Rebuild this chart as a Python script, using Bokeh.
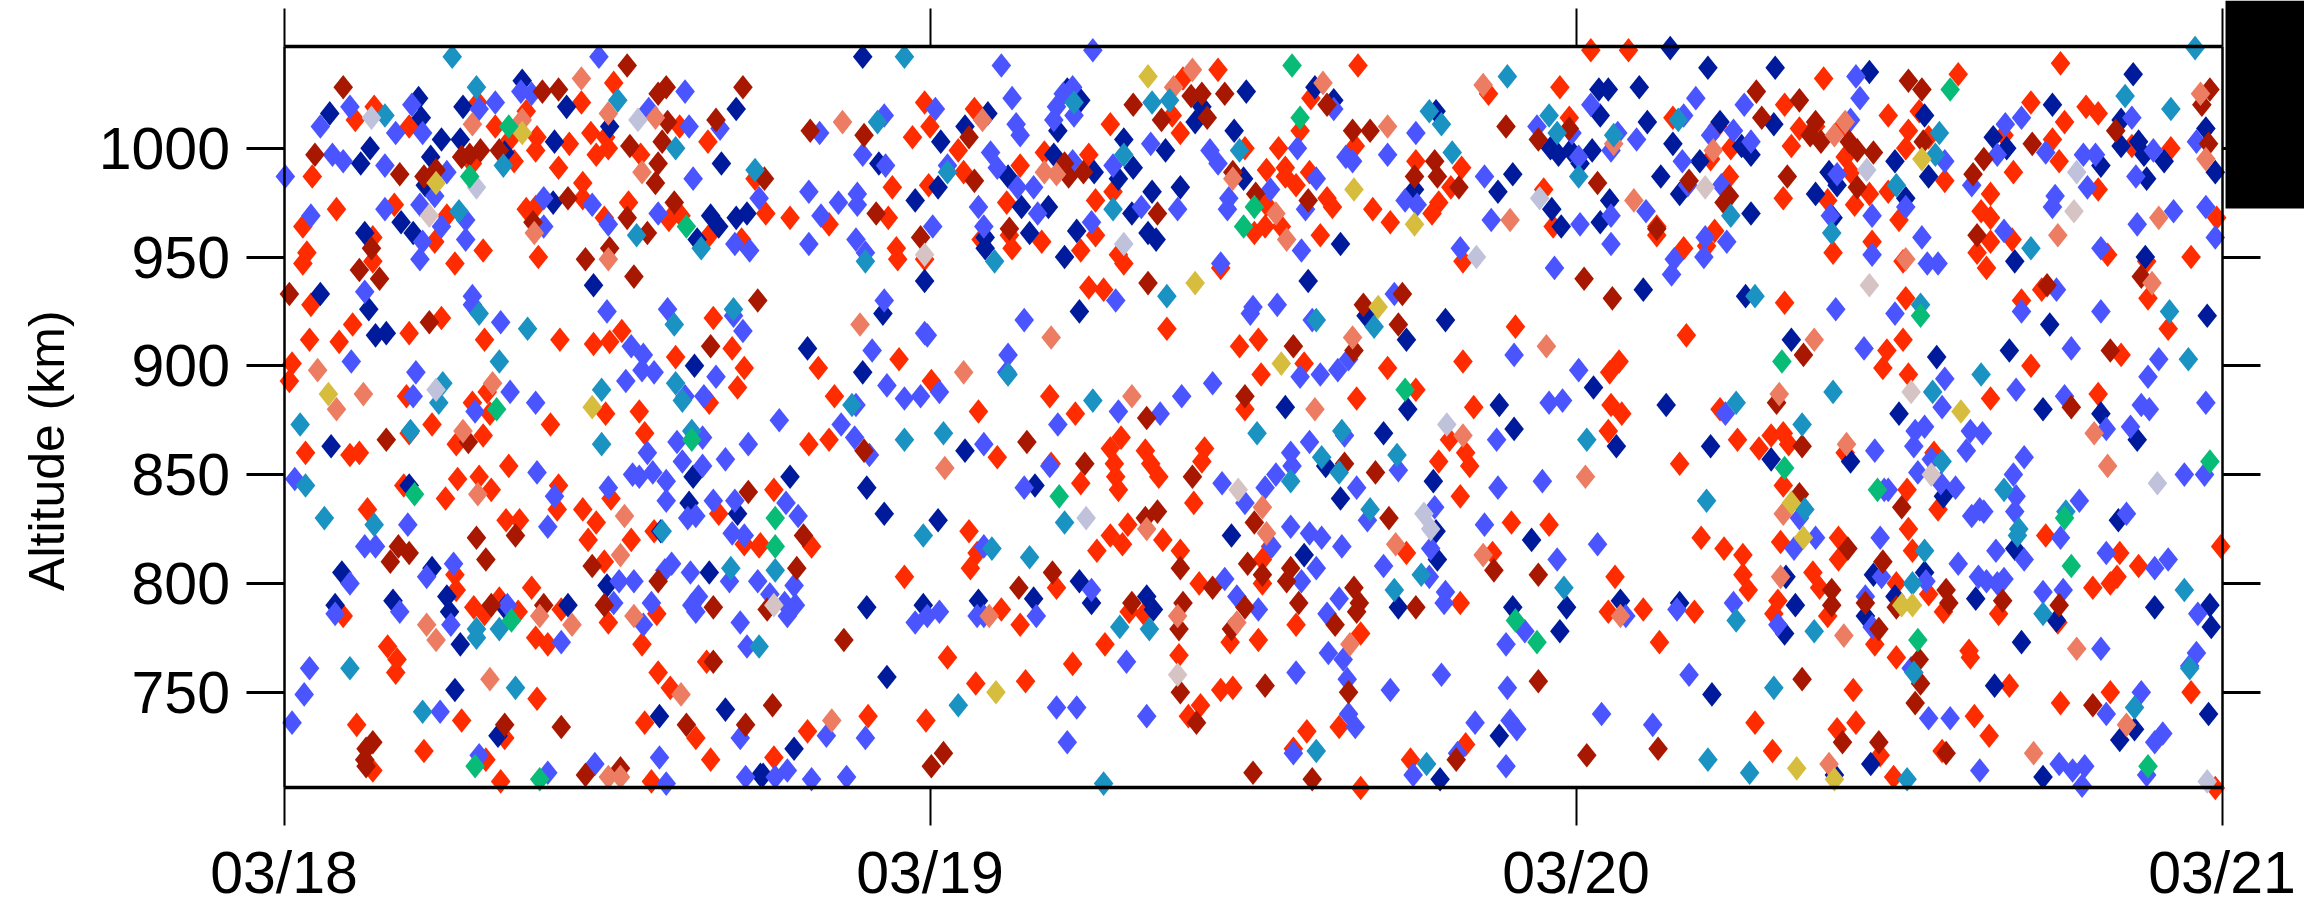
from bokeh.plotting import figure
from bokeh.models import LinearAxis, FixedTicker, Range1d, BoxAnnotation, Label
from bokeh.embed import file_html
from bokeh.resources import INLINE

# (hours since 03/18 00:00, altitude km)
teal = [(6.25,1042),(7.15,1028),(3.75,1015),(12.4,1022),(8.15,992),(6.5,971),(13.1,960),(14.55,1000),(15.5,954),(17.5,990),(16.7,926),(14.5,919),(7.25,924),(9.05,917),(8.0,902),(14.55,892),(14.8,884),(11.8,889),(5.75,883),(5.9,892),
(0.6,873),(4.7,870),(11.8,864),(15.15,870),(0.8,845),(1.5,830),(3.35,827),(14.05,824),(16.6,807),(7.15,779),(7.15,775),(8.0,779),(17.65,771),(2.45,761),(8.6,752),(5.15,741),
(23.05,1042),(22.05,1012),(24.65,989),(29.35,1021),(31.2,997),(32.25,1021),(32.9,1022),(35.5,999),(42.55,1017),(43,1011),(43.4,998),(45.45,1033),(30.8,972),(21.6,948),(26.4,948),(32.8,932),(40.5,918),(38.35,921),(26.9,896),(21.1,882),(30.05,884),
(23.05,866),(24.5,869),(36.15,869),(39.3,870),(41.35,859),(37.4,847),(38.55,858),(39.2,851),(40.35,834),(29,828),(23.75,822),(26.3,816),(27.7,812),(18.25,806),(41.25,797),(42.25,804),(31.05,780),(32.15,779),(25.05,744),(38.35,723),(42.45,717),(30.45,708),
(47,1015),(47.3,1007),(51.8,1013),(49.4,1006),(48.1,987),(61.5,1007),(61.35,997),(59.9,983),(53.75,969),(57.5,961),(64.9,954),(68.4,1024),(70.1,1018),(71,1046),(54.65,932),(60.8,928),(70.05,925),(63.05,896),(61.25,888),(57.55,888),(70.75,903),(53.95,883),
(48.4,866),(56.4,873),(52.85,838),(63.9,843),(64.45,825),(64.4,822),(60.95,815),(56.5,834),(61.6,856),(66.2,833),(60.5,800),(47.55,798),(70.6,797),(53.95,783),(56.85,778),(65.35,786),(55.35,752),(68.75,743),(60.55,759),(52.9,719),(54.45,713),(60.3,710),(70.8,761)]

blue = [(11.7,1042),(2.45,1019),(1.35,1010),(4.75,1020),(4.15,1007),(5.15,1007),(7.85,1021),(8.8,1026),(9.2,1025),(7.25,1018),(13.55,1018),(14.9,1026),(15.05,1010),(16.2,1009),(0.05,987),(1.8,997),(2.2,994),(3.75,992),(6.05,989),(5.6,978),(5.05,974),(3.75,972),(1.0,969),(9.65,977),(11.45,974),(15.2,986),(13.9,970),(12.05,965),(9.65,964),(6.75,967),(5.85,964),(6.75,958),(5.15,957),(5.05,949),(16.75,956),(17.3,953),(17.65,977),(7.0,932),(7.0,928),(3.0,934),(12.0,925),(14.25,926),(8.05,920),(12.9,909),(13.35,905),(13.3,898),(13.75,897),(12.7,893),(17.05,916),(16.7,923),(16.05,895),(14.9,886),(15.6,886),(2.5,902),(4.9,897),(4.8,886),(8.4,888),(9.35,883),(7.1,879),
(0.4,848),(9.4,851),(10.05,840),(12.05,844),(12.95,850),(13.2,849),(13.7,851),(14.2,847),(14.2,838),(13.5,860),(14.6,865),(14.8,856),(15.55,867),(15.55,854),(17.25,864),(16.4,857),(15.95,838),(16.75,838),(15.0,830),(15.3,831),(9.8,826),(4.6,827),(3.0,817),(3.4,817),(16.65,823),(17.1,822),(5.3,803),(6.3,809),(2.45,800),(12.45,801),(13.0,801),(14.4,809),(14.15,806),(15.1,805),(16.55,801),(17.6,801),(12.25,791),(13.65,791),(15.4,794),(15.15,790),(15.3,787),(1.9,786),(4.3,787),(6.2,781),(8.3,790),(13.35,781),(16.95,782),(10.3,773),(17.2,771),(0.95,761),(0.75,749),(0.3,736),(5.8,741),(16.95,729),(7.25,721),(11.55,717),(13.95,720),(9.8,713),(14.2,708),(17.15,711),
(26.65,1038),(30.05,1045),(27.05,1023),(29.3,1028),(28.95,1025),(28.7,1019),(28.6,1013),(29.35,1015),(27.2,1011),(27.35,1006),(24.2,1018),(22.3,1015),(19.9,1007),(26.25,998),(26.5,991),(24.65,992),(22.35,992),(21.5,997),(29.3,994),(30.8,992),(32.2,1002),(19.5,980),(21.3,979),(21.3,974),(20.6,975),(27.25,982),(27.85,982),(25.8,973),(28,970),(30,966),(31.85,973),(33.2,972),(19.95,969),(24.1,964),(26,964),(21.25,958),(19.5,956),(21.6,952),(34.4,999),(34.7,993),(36.65,981),(35.1,977),(35.05,972),(37.65,1000),(38.35,986),(37.95,972),(39,1018),(39.45,996),(39.7,994),(41,997),(42.05,1007),(41.65,976),(42.1,974),(44.6,987),(44.85,967),(43.7,954),(37.8,953),(34.8,947),(41.25,933),(22.3,930),(30.9,930),(36,927),(35.9,924),(36.9,928),(38.2,921),(27.5,921),(23.8,915),(23.9,914),(21.85,907),(26.9,905),(26.85,897),(22.4,891),(23.05,885),(23.65,886),(24.35,888),(34.5,892),(33.35,886),(37.75,895),(38.5,896),(39.15,898),(39.55,903),(45.7,905),(21.25,882),(31,879),(32.55,878),
(18.4,875),(20.7,873),(21.2,867),(21.75,859),(26,864),(28.75,873),(28.45,854),(27.5,844),(18.65,837),(19.1,831),(18.05,795),(18.95,799),(18.6,791),(19,790),(18.7,785),(23.45,782),(23.9,785),(24.35,787),(25.75,785),(26,785),(26,817),(27.95,785),(30,797),(45.05,866),(39.4,868),(38.1,865),(37.4,860),(37.45,854),(36.85,850),(36.45,844),(34.85,846),(35.7,837),(41.4,852),(39.85,844),(40.25,829),(42.75,835),(45.1,844),(44.6,827),(37.4,826),(38.1,823),(38.55,821),(39.3,817),(36.7,817),(38.35,807),(37.8,801),(40.85,808),(42.6,816),(42.55,803),(43.15,796),(43.1,791),(34.95,802),(35.4,794),(36.2,788),(39.2,793),(38.75,786),(45.4,772),(38.8,768),(39.35,765),(39.5,756),(37.6,759),(43,758),(41.1,751),(45.45,752),(39.55,740),(39.8,734),(44.25,736),(45.55,737),(45.8,733),(45.4,716),(31.3,764),(28.7,743),(29.45,743),(32.05,739),(29.1,727),(21.6,729),(20.15,730),(19.6,710),(20.9,711),(18.25,711),(18.7,714),(37.5,722),(41.95,712),(43.6,722),
(52.45,1023),(48.55,1020),(46.55,1010),(58.4,1033),(58.55,1023),(54.25,1020),(52,1015),(53,1006),(53.85,1008),(54.5,1003),(49.55,1007),(49.3,999),(50.25,1004),(51.95,994),(47.85,1007),(48.1,996),(64.55,1014),(63.95,1011),(65.45,998),(66.85,997),(67.3,997),(68.65,1014),(69.45,999),(68.8,987),(71.05,1003),(63.65,997),(61.7,994),(57.7,988),(58.2,1013),(53.4,983),(52.15,983),(50.6,971),(49.3,969),(48.15,965),(49.3,956),(57.45,969),(59,969),(60.25,973),(60.85,959),(59,951),(61.05,947),(61.45,947),(62.7,983),(63.9,962),(67,982),(65.8,978),(65.7,973),(70.2,971),(71.4,973),(68.85,965),(67.5,954),(71.75,959),(52.8,959),(53.6,957),(52.75,950),(51.65,949),(51.55,942),(47.2,945),(57.65,926),(59.85,924),(64.55,925),(65.85,935),(67.5,925),(58.7,908),(61.7,894),(66.4,908),(69.65,903),(69.25,895),(48.1,898),(47,883),(47.5,884),(64.35,889),(66.15,886),(69,882),(69.3,880),(71.4,883),(61.6,881),(53.55,878),
(46.75,847),(59.1,861),(60.55,863),(60.6,870),(60.95,872),(62.65,870),(63.1,869),(62.5,861),(61.2,857),(60.7,851),(64.65,858),(64.25,850),(61.55,846),(62.1,844),(59.45,843),(63,834),(62.7,831),(63.15,833),(64.35,840),(64.3,833),(66.7,838),(67.7,871),(68.6,872),(68.45,832),(70.6,850),(71.35,850),(56.3,830),(56.9,821),(56.1,816),(59.3,821),(66,821),(63.6,815),(64.65,811),(62.2,809),(67.7,814),(47.3,811),(48.8,818),(69.5,807),(70,811),(61,801),(62.95,803),(63.25,801),(63.65,800),(63.9,802),(59.35,803),(65.35,796),(66.1,797),(58.75,794),(53.85,791),(51.75,788),(71.1,786),(55.5,781),(59,780),(46.1,778),(49.85,785),(67.5,770),(71.05,768),(70.8,762),(60.45,761),(52.2,758),(69,750),(67.7,740),(48.95,740),(50.85,735),(61.1,738),(61.9,738),(69.8,731),(69.5,727),(63,714),(65.95,717),(66.45,714),(66.9,716),(66.8,707),(69.2,712),(59.6,843)]

navy = [(1.7,1016),(5.0,1023),(5.1,1014),(6.65,1019),(8.85,1031),(10.5,1019),(16.8,1018),(5.85,1004),(6.55,1004),(3.2,1000),(2.85,993),(5.45,996),(10.05,1003),(12.1,1010),(8.2,998),(16.25,993),(5.25,983),(4.35,966),(4.8,961),(3.0,961),(10.0,975),(15.85,969),(16.15,964),(16.8,968),(17.2,970),(15.35,958),(11.5,937),(1.35,933),(3.15,926),(3.4,914),(3.8,915),(15.25,900),
(1.75,863),(4.65,845),(15.2,849),(15.05,837),(16.85,832),(14.0,824),(2.15,805),(5.5,807),(15.8,805),(12.0,799),(1.9,790),(4.05,792),(6.05,794),(6.15,787),(8.2,789),(10.55,790),(6.55,772),(6.35,751),(7.95,730),(13.95,739),(16.4,742),(17.7,712),
(21.5,1042),(29.1,1027),(29.6,1022),(26.15,1016),(24.4,1003),(25.3,1010),(28.75,1008),(22.1,993),(24.3,982),(23.45,976),(27.4,973),(28.4,973),(26.9,987),(28.6,997),(30.1,989),(31.55,991),(31.0,986),(31.2,1004),(32.75,999),(32.25,980),(33.3,982),(31.5,970),(27.7,961),(29.45,962),(32.1,961),(32.4,958),(26.05,959),(26.05,954),(29,950),(23.8,939),(38.05,939),(33.85,1012),(35.3,1008),(35.75,1026),(38.3,1028),(39,1022),(42.8,1017),(35.65,986),(42,981),(45.1,980),(45.65,988),(39.25,956),(29.55,925),(22.25,924),(19.45,908),(21.5,897),(40.2,923),(43.15,921),(41.7,912),(37.2,881),(41.75,880),(45.15,882),(34.1,1019),
(18.8,849),(21.65,844),(22.3,832),(24.3,829),(25.3,861),(27.9,845),(40.85,869),(45.7,871),(38.7,854),(39.25,839),(42.7,847),(42.8,824),(42.85,811),(35.2,822),(37.9,813),(29.55,801),(30,791),(32.05,794),(25.8,792),(23.75,790),(21.65,789),(27.85,793),(41.4,789),(45.65,789),(22.4,757),(45.15,730),(18.95,724),(42.95,710),(17.8,712),(32.3,788),
(48.85,1027),(49.2,1027),(50.35,1028),(51.5,1046),(52.9,1037),(55.4,1037),(58.9,1035),(48.9,1015),(50.65,1012),(55.35,1011),(60.95,1015),(47.05,1000),(47.35,997),(47.8,999),(48.6,999),(48.15,993),(51.6,1002),(52.6,994),(53.35,1012),(54.15,1001),(54.5,997),(51.15,987),(51.85,979),(49.25,976),(47.1,972),(48.9,966),(47.45,964),(54.5,970),(56.9,979),(57.4,989),(57.7,983),(57.55,968),(59.85,994),(60.25,977),(61.1,987),(63.5,1005),(64,1000),(65.7,1020),(68.7,1034),(68.25,1013),(68.25,1001),(68.9,1003),(69.1,997),(69.2,986),(69.85,994),(67.5,992),(71.4,1009),(71.75,989),(64.3,948),(69.15,950),(50.5,935),(54.3,932),(56,912),(61.4,904),(48.65,890),(51.35,882),(64.1,907),(65.6,919),(71.45,923),(65.35,880),(67.5,878),(60,878),
(49.5,863),(53,863),(55.25,857),(58.2,856),(68.85,866),(61.65,840),(46.35,820),(47.65,789),(47.4,778),(49.65,792),(51.85,791),(68.15,829),(64.3,816),(59.05,804),(60.95,805),(56.15,790),(55.75,777),(58.75,785),(59.85,794),(62.85,793),(64.55,773),(69.5,789),(71.55,790),(71.6,780),(71.5,740),(63.55,753),(53.05,749),(68.2,728),(58.95,717),(57.6,712),(65.35,711),(68.75,733),(55.8,803),(65.85,783)]

red = [(3.35,1019),(2.65,1013),(4.65,1010),(7.2,1021),(9.0,1017),(11.05,1021),(12.25,1030),(7.85,1010),(8.4,1004),(9.4,1005),(9.35,999),(10.6,1002),(11.4,1007),(11.95,1005),(11.6,997),(12.05,1000),(13.25,997),(14.7,1010),(15.75,1003),(7.0,993),(8.55,994),(10.2,991),(1.05,987),(11.1,984),(11.1,977),(1.95,972),(4.1,974),(6.05,969),(12.8,975),(9.0,972),(9.35,973),(11.9,968),(14.3,967),(14.75,969),(0.7,964),(5.6,957),(15.8,960),(0.85,952),(0.7,947),(3.3,959),(3.3,948),(7.4,953),(6.35,947),(9.45,950),(17.0,958),(17.5,986),(1.0,928),(5.85,922),(2.55,919),(4.65,915),(0.95,912),(2.05,911),(7.45,912),(10.25,912),(11.5,910),(12.1,911),(12.55,916),(15.95,922),(16.65,908),(14.55,904),(17.1,899),(0.3,901),(0.2,893),(4.55,886),(7.0,883),(7.55,888),(15.8,883),(13.2,879),(11.95,878),(7.65,878),(16.85,890),
(0.8,860),(2.45,859),(2.8,860),(4.65,869),(5.5,873),(6.4,864),(7.4,868),(9.9,873),(8.35,854),(6.45,848),(7.25,849),(4.45,845),(7.7,843),(6.0,839),(3.1,834),(10.2,845),(12.15,839),(10.15,834),(11.1,834),(11.6,828),(8.25,829),(8.75,829),(11.3,820),(12.9,820),(13.75,824),(13.4,869),(16.15,832),(17.1,818),(17.65,817),(11.9,810),(6.35,804),(6.4,797),(9.2,798),(7.05,789),(7.45,786),(8.0,793),(8.7,787),(10.3,788),(13.85,786),(2.2,785),(12.05,782),(9.35,775),(9.8,772),(13.3,772),(3.85,771),(4.2,765),(4.15,759),(15.7,764),(13.9,759),(14.35,752),(9.4,747),(2.7,735),(6.6,737),(13.4,736),(15.3,729),(5.2,723),(15.85,719),(7.5,719),(8.05,709),(13.65,709),(3.3,714),(8.2,729),
(23.8,1021),(24,1010),(23.35,1005),(25.65,1018),(25.05,999),(25.25,989),(23.95,983),(22.6,982),(27.35,992),(28.25,998),(29.9,997),(26.85,975),(30.8,980),(30.15,976),(30.7,1011),(33.4,1032),(34.7,1036),(33,1015),(33.3,1007),(39.9,1038),(38.15,1023),(37.75,1008),(36.95,1000),(36.5,990),(37.2,991),(37.2,987),(37.6,983),(38.1,989),(38.75,977),(38.95,973),(39.8,1001),(35.7,1000),(36.5,974),(36.45,964),(36.05,961),(37.05,964),(38.5,960),(42.05,994),(43.75,991),(42.9,975),(42.65,970),(43.35,982),(40.45,972),(41.1,966),(44.75,1025),(43.8,948),(17.9,970),(18.8,968),(20.25,965),(22.45,968),(22.75,954),(22.8,949),(23.8,949),(25.9,958),(26.95,960),(27.05,954),(28.15,957),(30.15,960),(29.6,953),(31,951),(31.2,947),(29.9,936),(30.45,935),(34.8,945),(32.8,917),(35.5,909),(36.2,912),(22.85,903),(19.85,899),(24.05,893),(36.3,896),(37.9,901),(41,899),(43.8,902),(42.05,889),(39.85,885),(20.45,886),(28.45,886),(25.8,879),(29.4,878),(35.7,880),(44.2,881),(45.75,918),
(19.5,864),(20.25,866),(18.2,843),(19.6,817),(17.7,818),(26.5,858),(28.5,855),(29.6,846),(31.1,867),(30.7,862),(30.85,855),(30.9,849),(31,843),(32,861),(32.2,855),(32.5,849),(34.2,862),(34.1,856),(33.8,837),(43.3,866),(43.9,860),(44.05,854),(42.9,856),(43.7,840),(45.6,828),(44.9,814),(41.7,814),(31.35,827),(30.7,822),(31.15,818),(32.65,820),(33.3,815),(30.2,815),(36.65,817),(36.35,811),(36.35,800),(25.45,824),(25.75,814),(25.5,807),(23.05,803),(28.7,798),(34,800),(43.7,791),(26.65,788),(27.35,781),(31.4,787),(31.95,786),(30.5,772),(37.6,781),(40,777),(35.15,773),(36.2,774),(33.25,767),(24.65,766),(29.3,763),(27.55,755),(25.7,754),(34.8,751),(35.25,752),(34.05,744),(33.6,739),(21.7,739),(23.85,737),(19.45,732),(18.2,720),(39.2,734),(38,732),(37.5,724),(41.85,719),(43.9,726),(40,706),
(48.55,1045),(49.95,1045),(47.4,1028),(47.75,1014),(51.6,1014),(53.25,1010),(53.75,1000),(53,995),(53.7,987),(46.8,981),(47.15,964),(51,964),(51,960),(53.15,962),(52.85,955),(52,954),(57.2,1032),(55.75,1020),(56.3,1009),(56,1001),(56.9,1010),(55.7,977),(57.95,1011),(58,996),(58.2,989),(59.6,1015),(60.75,1017),(62.2,1034),(60.35,1008),(61.1,1005),(60.25,1000),(61.7,985),(57.35,976),(58.35,974),(58.9,979),(59.6,980),(60,967),(59,957),(60.15,948),(57.55,952),(60.25,931),(55.75,929),(52.1,914),(60.15,912),(59.55,907),(59.4,899),(60.35,896),(49.6,902),(49.25,897),(49.3,882),(49.7,878),(53.35,880),(63.4,885),(64.9,900),(67.4,887),(68.25,905),(66,1039),(64.9,1021),(66.15,1012),(66.95,1019),(67.4,1016),(65.7,1004),(65.95,994),(64.25,989),(63.9,1006),(63.4,979),(63.05,971),(63.4,968),(64.2,958),(63.4,957),(62.9,952),(63.25,945),(68.65,1001),(70.1,1000),(67.4,981),(67.75,951),(69.2,948),(70.85,950),(64.55,930),(65.3,935),(69.25,931),(70,917),(71.8,968),
(49.2,870),(54,866),(54.8,862),(55.25,868),(55.7,869),(55.9,864),(51.85,855),(58,860),(55.7,845),(61.3,860),(60.3,843),(61.45,834),(60.35,825),(60.5,815),(47,827),(52.65,821),(53.5,816),(54.2,813),(55.6,819),(57.75,821),(57.75,811),(65.45,822),(71.95,817),(68.2,814),(68.9,808),(68.1,803),(67.85,800),(67.2,798),(49.45,803),(54.2,804),(54.4,797),(56.8,805),(57.05,798),(55.5,792),(55.35,786),(49.2,787),(50.5,788),(52.4,787),(57.35,785),(59.9,800),(61.1,795),(61.65,787),(63.7,786),(65.9,782),(51.1,773),(59.1,772),(59.9,766),(62.6,769),(62.65,766),(64.1,753),(66,745),(67.85,750),(70.85,750),(58.3,751),(62.8,739),(63.35,730),(54.65,736),(58.4,736),(57.7,733),(61.6,723),(55.3,723),(59.8,711),(59.3,721),(71.75,706)]

dark_red = [(2.2,1028),(12.75,1038),(9.6,1026),(10.2,1027),(17.05,1028),(13.9,1025),(14.2,1028),(16.05,1013),(14.25,1012),(14.05,1003),(13.9,993),(13.8,984),(1.15,997),(4.3,988),(5.2,987),(5.65,990),(6.6,996),(6.9,997),(7.3,999),(8.0,999),(12.85,1001),(10.55,977),(14.5,975),(12.75,968),(9.25,966),(13.5,961),(12.1,954),(11.2,949),(13.0,941),(3.25,954),(2.8,944),(3.55,940),(0.2,933),(17.6,930),(5.4,920),(15.85,909),
(3.8,866),(6.85,865),(17.25,842),(7.15,821),(8.6,822),(4.25,817),(4.65,814),(3.95,810),(7.5,811),(11.45,808),(13.9,801),(15.95,789),(11.9,790),(7.7,790),(9.65,790),(15.95,764),(10.3,734),(14.95,735),(17.15,735),(3.3,727),(3.05,724),(3.0,719),(3.05,716),(11.2,712),(12.5,715),(8.2,735),
(19.55,1008),(21.55,1006),(25.45,1005),(25.65,985),(29,993),(29.15,987),(29.7,989),(22,970),(23.65,959),(26.95,963),(31.55,1020),(32.6,1013),(33.7,1024),(34.1,1025),(34.3,1014),(34.95,1025),(32.45,970),(35.25,989),(36.1,979),(38.75,1020),(39.7,1008),(40.35,1008),(45.4,1010),(38.05,976),(42,987),(42.75,994),(42.85,987),(43.65,982),(32.1,938),(40.1,928),(41.4,919),(41.55,933),(39.75,907),(37.5,909),(35.7,886),(32.05,876),(17.85,986),
(18.15,744),(20.8,774),(21.55,861),(27.6,865),(29.75,855),(33.75,849),(39.4,855),(40.55,851),(41.05,830),(32.45,833),(32,830),(36.05,828),(19.3,822),(19.05,807),(28.55,805),(27.3,798),(17.95,788),(33.3,807),(34.5,798),(35.8,809),(37.4,807),(37.25,801),(36.35,804),(44.95,806),(33.4,791),(31.5,791),(35.7,789),(37.7,791),(39.75,798),(39.95,791),(39.85,787),(42.05,789),(39.05,781),(33.25,779),(35.2,779),(33.3,750),(36.45,753),(39.55,750),(33.9,736),(24.5,722),(24.05,716),(36,713),(38.2,710),(43.55,719),
(54.7,1026),(56.3,1022),(54.9,1014),(60.35,1031),(60.85,1027),(71.55,1027),(71.25,1020),(56.9,1012),(56.7,1006),(57.1,1003),(58.15,1003),(58.45,999),(59.05,998),(60.9,1003),(46.6,1004),(47.75,1009),(63.15,995),(62.75,988),(64.95,1002),(68.05,1008),(71.5,1002),(48.8,984),(55.85,987),(52.2,985),(53.7,978),(53.5,975),(58.45,982),(51,963),(62.9,960),(48.3,940),(49.35,931),(69,941),(65.5,937),(67.85,907),(56.45,905),(55.45,883),(66.4,881),
(56.4,863),(56.3,841),(58.1,816),(59.4,810),(46.6,804),(57.5,797),(57.5,790),(61.75,797),(61.85,791),(59.9,789),(58.75,791),(63.85,792),(65.95,790),(59.25,779),(60.75,765),(60.8,754),(60.6,745),(46.6,755),(56.4,756),(67.2,744),(48.4,721),(51.05,724),(57.9,727),(59.25,727),(61.75,722),(60.1,835)]

salmon = [(11.05,1032),(7.0,1011),(8.85,1013),(12.05,1016),(13.8,1014),(13.3,989),(9.3,961),(12.05,949),(1.25,898),(2.95,887),(1.95,880),(7.75,892),
(6.65,870),(7.2,841),(12.65,831),(12.5,813),(5.3,781),(5.65,774),(9.5,785),(10.7,781),(13.0,785),(7.65,756),(14.75,749),(12.05,711),(12.5,711),
(20.75,1012),(25.95,1013),(28.25,989),(28.7,988),(33.05,1028),(33.75,1036),(38.6,1030),(41,1010),(44.55,1029),(45.55,967),(35.25,986),(36.85,970),(37.25,958),(21.4,919),(28.5,913),(39.7,913),(25.25,897),(31.5,886),(38.3,880),
(24.55,853),(32.05,825),(36.35,835),(36.5,823),(41.3,818),(44.55,813),(43.8,868),(26.2,785),(33.2,785),(35.4,782),(39.6,772),(20.35,737),
(50.15,976),(53.1,999),(57.6,1006),(58,1012),(71.2,1025),(71.4,995),(69.65,968),(65.9,960),(60.25,949),(69.4,938),(56.85,912),(46.9,909),(55.55,887),(49.4,1002),
(48.35,849),(58.05,864),(67.25,869),(67.75,854),(55.7,832),(55.6,803),(49.65,785),(57.95,776),(66.6,770),(65,722),(68.45,735),(57.4,717)]

green = [(8.35,1010),(6.9,987),(14.95,964),(7.9,880),(8.45,783),(4.85,841),(7.1,716),(9.5,710),(15.15,866),
(37.45,1038),(37.75,1014),(36.05,973),(35.65,964),(41.65,889),(18.25,830),(18.25,817),(28.8,840),(45.75,783),
(61.9,1027),(60.8,923),(55.65,902),(55.75,853),(59.2,843),(66.15,830),(66.4,808),(60.7,774),(46.55,773),(71.55,856),(69.25,716)]

gold = [(8.85,1007),(5.65,984),(1.65,887),(11.45,881),(32.1,1033),(39.75,981),(42,965),(33.85,938),(40.65,927),(37.05,901),(26.45,750),
(60.85,995),(62.3,879),(56,837),(56.45,821),(60.5,790),(60.1,790),(56.2,715),(57.6,710)]

lavender = [(3.25,1014),(13.15,1013),(7.15,982),(5.65,889),(31.2,956),(44.3,950),(43.2,873),(29.8,830),(42.35,832),(42.6,825),(46.65,977),(58.8,990),(66.6,989),(69.6,846),(71.45,709)]

pink_gray = [(5.4,969),(23.8,951),(35.45,843),(33.2,758),(18.2,790),(52.8,982),(58.9,937),(66.5,971),(60.45,888),(61.2,850)]

day_ticks = [0, 24, 48, 72]
day_labels = ["03/18", "03/19", "03/20", "03/21"]
alt_ticks = [750, 800, 850, 900, 950, 1000]
alt_low, alt_high = 706.2, 1046.9
FONT = "Liberation Sans"

PX_H = 26.917      # pixels per hour
PX_KM = 2.176      # pixels per km
HALF_W = 9.8 / PX_H   # diamond half width, in hours
HALF_H = 12.3 / PX_KM # diamond half height, in km

p = figure(width=2304, height=905, output_backend="svg", toolbar_location=None,
           x_axis_location=None, y_axis_location=None, min_border=0,
           x_range=Range1d(-283.5 / PX_H, (2304 - 283.5) / PX_H),
           y_range=Range1d(1000 - (905 - 147.7) / PX_KM, 1000 + 147.7 / PX_KM),
           styles={"position": "absolute", "left": "0px", "top": "0px"})
p.outline_line_color = None
p.xgrid.visible = False
p.ygrid.visible = False
p.background_fill_color = "white"

layers = [(red, "#FF2C00"), (navy, "#001A9C"), (blue, "#4A55FF"), (dark_red, "#A81800"),
          (salmon, "#EC7C62"), (teal, "#1A92C2"), (lavender, "#BFC2DA"), (pink_gray, "#D6C3C3"),
          (gold, "#D6BD3E"), (green, "#08BC78")]
for pts, col in layers:
    xs = [[h - HALF_W, h, h + HALF_W, h] for h, _ in pts]
    ys = [[a, a + HALF_H, a, a - HALF_H] for _, a in pts]
    p.patches(xs, ys, fill_color=col, line_color=None)

def x_axis(loc, side, labels):
    ax = LinearAxis(fixed_location=loc, bounds=(0, 72), ticker=FixedTicker(ticks=day_ticks),
                    major_label_overrides=dict(zip(day_ticks, labels)))
    ax.axis_line_width = 3.5
    ax.major_tick_line_width = 2
    ax.major_tick_in = 0
    ax.major_tick_out = 38
    ax.minor_tick_line_color = None
    ax.major_label_text_font = FONT
    ax.major_label_text_font_size = "59px"
    ax.major_label_text_color = "black"
    ax.major_label_standoff = 14
    p.add_layout(ax, side)

def y_axis(loc, side, labels):
    ax = LinearAxis(fixed_location=loc, bounds=(alt_low, alt_high), ticker=FixedTicker(ticks=alt_ticks))
    if labels is not None:
        ax.major_label_overrides = dict(zip(alt_ticks, labels))
    ax.axis_line_width = 2.5
    ax.major_tick_line_width = 3
    ax.major_tick_in = 0
    ax.major_tick_out = 38
    ax.minor_tick_line_color = None
    ax.major_label_text_font = FONT
    ax.major_label_text_font_size = "59px"
    ax.major_label_text_color = "black"
    ax.major_label_standoff = 16
    p.add_layout(ax, side)

x_axis(alt_low, "below", day_labels)
x_axis(alt_high, "above", [""] * 4)
y_axis(0, "left", None)
y_axis(72, "right", [""] * 6)

p.add_layout(Label(x=-8.82, y=861, text="Altitude (km)", angle=90, angle_units="deg",
                   text_font=FONT, text_font_size="50px", text_align="center",
                   text_baseline="middle", text_color="black"))
p.add_layout(BoxAnnotation(left=72.13, bottom=972.3, fill_color="black", fill_alpha=1,
                           line_color=None))

open("out.html", "w").write(file_html(p, INLINE))
